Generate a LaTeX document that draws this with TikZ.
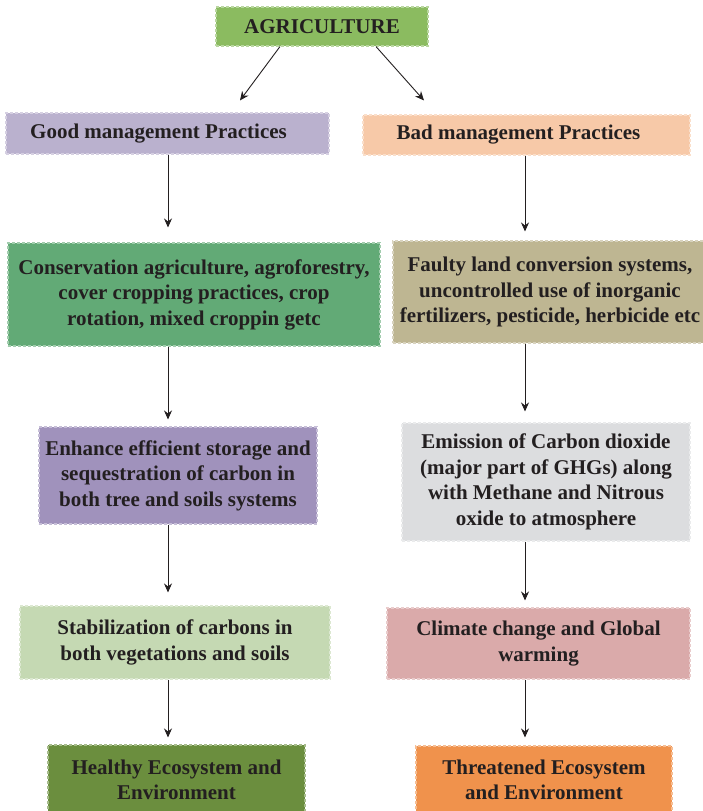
\documentclass[tikz,border=0pt]{standalone}
\usepackage{fontspec}
\setmainfont{Liberation Serif}
\usepackage{tikz}
\usetikzlibrary{arrows.meta,positioning,calc}
\usepackage{xcolor}

\definecolor{txtdark}{RGB}{35,31,32}
\definecolor{agriGreen}{RGB}{139,187,96}
\definecolor{goodLilac}{RGB}{186,177,206}
\definecolor{badPeach}{RGB}{247,201,168}
\definecolor{consGreen}{RGB}{98,170,118}
\definecolor{faultyKhaki}{RGB}{190,182,146}
\definecolor{enhPurple}{RGB}{160,146,188}
\definecolor{emisGrey}{RGB}{220,221,223}
\definecolor{stabGreen}{RGB}{197,217,179}
\definecolor{climRose}{RGB}{218,170,170}
\definecolor{healthyOlive}{RGB}{107,142,62}
\definecolor{threatOrange}{RGB}{240,146,76}

\tikzset{
  box/.style={rectangle, inner sep=0pt, align=center, text=txtdark,
    font=\fontsize{21}{25.5}\selectfont\bfseries,
    line width=1.1pt, dash pattern=on 3pt off 2pt},
  arr/.style={-{Stealth[length=9pt,width=8pt]}, line width=0.9pt, txtdark},
}

\begin{document}
\begin{tikzpicture}[x=1pt,y=-1pt]
    \useasboundingbox (0,0) rectangle (702,811);

    % top
    \node[box, fill=agriGreen, draw=agriGreen!60!white, minimum width=212pt, minimum height=39pt] (agri) at (322,26.5) {AGRICULTURE};

    % left branch
    \node[box, fill=goodLilac, draw=goodLilac!60!white, minimum width=323pt, minimum height=41pt] (good) at (167.5,133.5) {Good management Practices\hspace*{18pt}};
    \node[box, fill=consGreen, draw=consGreen!60!white, minimum width=372pt, minimum height=103pt] (cons) at (194,294.5) {Conservation agriculture, agroforestry,\\cover cropping practices, crop\\rotation, mixed croppin getc};
    \node[box, fill=enhPurple, draw=enhPurple!60!white, minimum width=278pt, minimum height=97pt] (enh) at (178,475.5) {Enhance efficient storage and\\sequestration of carbon in\\both tree and soils systems};
    \node[box, fill=stabGreen, draw=stabGreen!60!white, minimum width=310pt, minimum height=73pt] (stab) at (175,642.5) {Stabilization of carbons in\\both vegetations and soils};
    \node[box, fill=healthyOlive, draw=healthyOlive!60!white, minimum width=257pt, minimum height=70pt] (healthy) at (176.5,780) {Healthy Ecosystem and\\Environment};

    % right branch
    \node[box, fill=badPeach, draw=badPeach!60!white, minimum width=327pt, minimum height=40pt] (bad) at (526.5,135) {Bad management Practices\hspace*{16pt}};
    \node[box, fill=faultyKhaki, draw=faultyKhaki!60!white, minimum width=314pt, minimum height=102pt] (faulty) at (550,292) {Faulty land conversion systems,\\uncontrolled use of inorganic\\fertilizers, pesticide, herbicide etc};
    \node[box, fill=emisGrey, draw=emisGrey!60!white, minimum width=288pt, minimum height=118pt] (emis) at (546,482) {Emission of Carbon dioxide\\(major part of GHGs) along\\with Methane and Nitrous\\oxide to atmosphere};
    \node[box, fill=climRose, draw=climRose!60!white, minimum width=303pt, minimum height=71pt] (clim) at (538.5,643.5) {Climate change and Global\\warming};
    \node[box, fill=threatOrange, draw=threatOrange!60!white, minimum width=256pt, minimum height=68pt] (threat) at (544,780) {Threatened Ecosystem\\and Environment};

    % arrow columns
    \coordinate (lcol) at (168,0);
    \coordinate (rcol) at (525,0);

    \draw[arr] ([xshift=-42pt]agri.south) -- ([xshift=72.5pt,yshift=12pt]good.north);
    \draw[arr] ([xshift=54pt]agri.south) -- ([xshift=-102.5pt,yshift=14pt]bad.north);

    \draw[arr, shorten >=15pt] (lcol |- good.south) -- (lcol |- cons.north);
    \draw[arr, shorten >=7pt] (lcol |- cons.south) -- (lcol |- enh.north);
    \draw[arr, shorten >=13pt] (lcol |- enh.south) -- (lcol |- stab.north);
    \draw[arr, shorten >=7pt] (lcol |- stab.south) -- (lcol |- healthy.north);

    \draw[arr, shorten >=9pt] (rcol |- bad.south) -- (rcol |- faulty.north);
    \draw[arr, shorten >=11pt] (rcol |- faulty.south) -- (rcol |- emis.north);
    \draw[arr, shorten >=7pt] (rcol |- emis.south) -- (rcol |- clim.north);
    \draw[arr, shorten >=8pt] (rcol |- clim.south) -- (rcol |- threat.north);
\end{tikzpicture}
\end{document}
